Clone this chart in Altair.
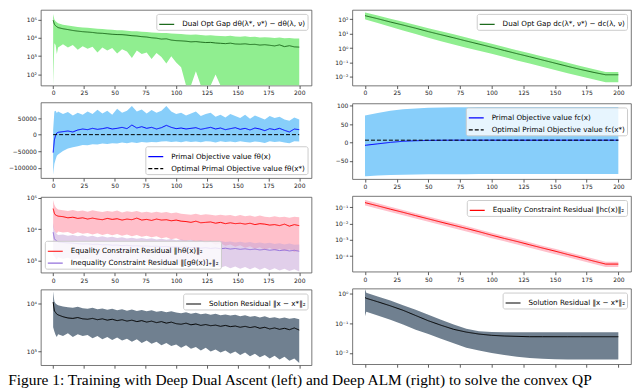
import altair as alt
import pandas as pd

# ---------------- x positions ----------------
XL = [0, 1, 2, 3] + list(range(4, 201, 4))          # left column (Deep Dual Ascent)
XR = [0, 1] + list(range(10, 201, 10))             # right column (Deep ALM)
XTICKS = [0, 25, 50, 75, 100, 125, 150, 175, 200]

# ---------------- Left column data ----------------
L1_MEAN = [90000, 55000, 45000, 40000,
           36000, 31000, 28000, 25000, 23000, 21500, 20500, 19500, 18000, 17500,
           16500, 15500, 15000, 14800, 14000, 13000, 12500, 11500, 11000, 10000,
           9500, 8500, 8800, 7500, 7000, 6800, 6500, 6000, 6200, 5800,
           5500, 5600, 5200, 5000, 4800, 5100, 4600, 4500, 4700, 4300,
           4400, 4000, 4200, 3900, 3600, 4100, 3300, 3700, 3200, 3100]
L1_HI = [200000, 100000, 80000, 70000,
         62000, 52000, 46000, 42000, 39000, 36000, 35000, 33000, 31000, 30000,
         28500, 27000, 26000, 25500, 24000, 23000, 22500, 21500, 20500, 19500,
         19000, 18000, 18500, 17000, 16500, 16000, 15000, 14500, 15000, 14000,
         13500, 13800, 13000, 12500, 12200, 12800, 11800, 11500, 12000, 11000,
         11300, 10500, 10800, 10200, 9800, 10400, 9300, 9800, 9200, 9000]
L1_LO = [10, 5000, 4000, 1300,
         3000, 4500, 3000, 4000, 2200, 3500, 2500, 3200, 1600, 3000,
         2000, 2800, 1400, 2400, 1800, 800, 2000, 1300, 1600, 700,
         1500, 900, 400, 1000, 450, 250, 10, 10, 150, 10,
         10, 10, 100, 10, 10, 10, 10, 10, 10, 10,
         10, 10, 10, 10, 10, 10, 10, 10, 10, 10]

L2_MEAN = [-54000, -16000, -2000, 5000,
           7000, 9000, 11000, 8000, 14000, 17000, 15000, 19000, 16000, 18000,
           21000, 17000, 19000, 22000, 18000, 29000, 20000, 24000, 19000, 22000,
           17000, 21000, 28000, 22000, 18000, 20000, 17000, 19000, 21000, 16000,
           19000, 22000, 17000, 20000, 15000, 18000, 21000, 16000, 19000, 14000,
           20000, 17000, 12000, 18000, 15000, 19000, 13000, 8000, 17000, 15000]
L2_HI = [15000, 70000, 72000, 65000,
         70000, 62000, 68000, 58000, 66000, 60000, 70000, 62000, 75000, 64000,
         72000, 60000, 78000, 66000, 72000, 86000, 70000, 76000, 64000, 74000,
         66000, 72000, 86000, 70000, 62000, 66000, 58000, 64000, 70000, 56000,
         62000, 66000, 54000, 60000, 52000, 62000, 56000, 50000, 60000, 48000,
         58000, 52000, 46000, 56000, 50000, 54000, 46000, 42000, 52000, 46000]
L2_LO = [-121000, -88000, -75000, -64000,
         -60000, -49000, -42000, -38000, -35000, -31000, -32000, -29000, -30000, -27000,
         -28000, -26000, -27000, -24000, -26000, -23000, -25000, -22000, -24000, -22000,
         -23000, -21000, -20000, -22000, -21000, -23000, -20000, -22000, -21000, -23000,
         -20000, -21000, -24000, -20000, -22000, -21000, -23000, -20000, -22000, -24000,
         -21000, -22000, -25000, -20000, -22000, -21000, -24000, -26000, -20000, -21000]
L2_OPT_X = [0, 200]
L2_OPT = [0, 0]

L3_MEAN = [45000, 32000, 28000, 27000,
           26000, 25000, 23000, 24000, 22000, 23000, 21000, 22500, 21000, 20000,
           22000, 20500, 21500, 19500, 21000, 20000, 22500, 19500, 20500, 19000,
           21000, 19500, 20000, 18500, 19500, 18000, 17500, 16500, 18000, 16000,
           16500, 17000, 15500, 16500, 15000, 16000, 15000, 15500, 14500, 15500,
           14000, 15000, 14500, 13500, 14000, 13000, 14500, 12500, 14000, 13000]
L3_HI = [85000, 60000, 50000, 45000,
         42000, 40000, 38000, 41000, 37000, 39000, 36000, 40000, 37000, 35000,
         38000, 36000, 39000, 34000, 37000, 35000, 38000, 34000, 36000, 33000,
         36000, 33000, 35000, 32000, 34000, 31000, 30000, 29000, 31000, 28000,
         30000, 29000, 27000, 29000, 27000, 28000, 26000, 28000, 26000, 27000,
         25000, 27000, 25000, 24000, 26000, 24000, 25000, 23000, 25000, 24000]
L3_LO = [12000, 9000, 8000, 7500,
         8500, 7800, 8200, 7000, 8000, 7200, 7600, 6800, 7400, 6600,
         7200, 6400, 7000, 6200, 6800, 6000, 6600, 5800, 6200, 5600,
         6000, 5200, 5600, 4800, 5200, 4500, 4200, 4600, 3800, 4200,
         3500, 3900, 3200, 3600, 3000, 3300, 2800, 3100, 2600, 2900,
         2400, 2700, 2200, 2600, 2100, 2400, 2000, 2300, 1900, 2100]
L3G_MEAN = [8000, 5000, 4500, 4200,
            4000, 3800, 3700, 3600, 3500, 3400, 3450, 3300, 3350, 3200,
            3250, 3100, 3150, 3000, 3100, 2950, 3000, 2900, 2950, 2850,
            2900, 2800, 2850, 2700, 2750, 2650, 2700, 2600, 2650, 2500,
            2600, 2450, 2550, 2400, 2500, 2350, 2450, 2300, 2400, 2250,
            2350, 2200, 2300, 2150, 2250, 2100, 2200, 2050, 2150, 2000]
L3G_HI = [16000, 9000, 8000, 7000,
          6500, 6800, 6200, 6600, 6000, 6400, 5800, 6200, 5600, 6000,
          5500, 5800, 5300, 5600, 5100, 5400, 5000, 5300, 4900, 5200,
          4700, 5000, 4600, 4900, 4500, 4700, 4400, 4600, 4200, 4500,
          4100, 4300, 4000, 4200, 3900, 4100, 3800, 4000, 3700, 3900,
          3600, 3800, 3500, 3700, 3400, 3600, 3300, 3500, 3200, 3300]
L3G_LO = [1500, 1400, 1200, 1100,
          1300, 1150, 1250, 1100, 1200, 1050, 1150, 1000, 1100, 950,
          1050, 900, 1000, 870, 950, 840, 920, 800, 880, 780,
          850, 750, 820, 720, 790, 700, 760, 680, 740, 650,
          720, 630, 700, 600, 680, 580, 660, 560, 640, 540,
          620, 520, 600, 500, 580, 490, 560, 470, 540, 460]

L4_MEAN = [10700, 7000, 6500, 6000,
           5800, 5300, 5000, 4900, 5100, 4800, 4700, 4900, 4600, 4800,
           4500, 4700, 4400, 4600, 4300, 4500, 4200, 4400, 4100, 4300,
           4000, 4200, 3900, 4100, 3800, 3700, 3900, 3600, 3750, 3500,
           3650, 3450, 3550, 3350, 3500, 3300, 3400, 3200, 3350, 3150,
           3300, 3050, 3200, 2950, 3100, 2900, 3050, 2850, 3100, 2800]
L4_HI = [18000, 11000, 10000, 9500,
         9200, 8700, 8400, 8200, 8600, 8000, 7800, 8200, 7600, 7900,
         7400, 7800, 7200, 7600, 7100, 7500, 7000, 7300, 6900, 7200,
         6700, 7000, 6600, 6900, 6500, 6300, 6600, 6100, 6400, 6000,
         6200, 5800, 6100, 5700, 5900, 5600, 5800, 5400, 5700, 5300,
         5500, 5100, 5400, 5000, 5200, 4900, 5100, 4800, 5000, 4700]
L4_LO = [3200, 2600, 2200, 2000,
         2300, 2100, 2400, 2000, 2300, 2100, 2200, 1900, 2100, 1800,
         2000, 1750, 1950, 1700, 1850, 1600, 1800, 1500, 1700, 1450,
         1600, 1350, 1500, 1300, 1400, 1200, 1350, 1150, 1250, 1050,
         1200, 1000, 1100, 950, 1050, 900, 1000, 850, 950, 800,
         900, 760, 850, 720, 820, 680, 780, 640, 720, 580]

# ---------------- Right column data ----------------
R1_MEAN = [180, 170, 110, 65, 40, 24, 14, 8.5, 5.2, 3.1, 1.9, 1.15, 0.68, 0.41,
           0.25, 0.15, 0.09, 0.054, 0.033, 0.021, 0.014, 0.014]
R1_HI = [300, 285, 185, 110, 68, 41, 24, 15, 9, 5.4, 3.3, 2.0, 1.2, 0.72,
         0.44, 0.26, 0.16, 0.095, 0.058, 0.035, 0.022, 0.022]
R1_LO = [100, 95, 55, 30, 17, 9.5, 5.3, 3.0, 1.8, 1.05, 0.65, 0.4, 0.24, 0.14,
         0.085, 0.05, 0.03, 0.018, 0.011, 0.0068, 0.0042, 0.0042]

R2_MEAN = [-8, -7.6, -4, 0, 3, 4.5, 5.3, 5.7, 6, 6, 6, 6, 6, 6, 6, 6, 6, 6, 6, 6, 6, 6]
R2_HI = [73, 74, 80, 86, 90, 92.5, 94, 95, 95.5, 96, 96.3, 96.5, 96.5, 96.5,
         96.5, 96.5, 96.5, 96.5, 96.5, 96.5, 96.5, 96.5]
R2_LO = [-92, -92, -90, -89, -88, -87.5, -87, -86.5, -86.5, -86.5, -86.3, -86.2,
         -86, -86, -86, -86, -86, -86, -86, -86, -86, -86]
R2_OPT_X = [0, 200]
R2_OPT = [6, 6]

R3_MEAN = [0.19, 0.18, 0.12, 0.075, 0.048, 0.030, 0.019, 0.012, 0.0077, 0.0049,
           0.0031, 0.0019, 0.0012, 0.00078, 0.00049, 0.00031, 0.0002, 0.000125,
           0.00008, 0.00005, 0.000032, 0.000032]
R3_HI = [0.27, 0.26, 0.17, 0.105, 0.067, 0.042, 0.027, 0.017, 0.011, 0.0069,
         0.0043, 0.0027, 0.0017, 0.0011, 0.00069, 0.00043, 0.00028, 0.000175,
         0.00011, 0.00007, 0.000045, 0.000045]
R3_LO = [0.126, 0.12, 0.08, 0.05, 0.032, 0.02, 0.0125, 0.0079, 0.0051, 0.0032,
         0.002, 0.00125, 0.0008, 0.00051, 0.00032, 0.0002, 0.00013, 0.000083,
         0.000053, 0.000033, 0.000021, 0.000021]

R4_MEAN = [0.72, 0.68, 0.52, 0.38, 0.27, 0.18, 0.12, 0.085, 0.062, 0.05, 0.043,
           0.039, 0.037, 0.036, 0.035, 0.035, 0.035, 0.035, 0.035, 0.035, 0.035, 0.035]
R4_HI = [1.4, 1.05, 0.78, 0.57, 0.4, 0.28, 0.19, 0.13, 0.09, 0.065, 0.053, 0.05,
         0.049, 0.049, 0.049, 0.049, 0.049, 0.049, 0.049, 0.049, 0.049, 0.049]
R4_LO = [0.17, 0.24, 0.18, 0.13, 0.09, 0.06, 0.043, 0.03, 0.021, 0.015, 0.012, 0.01,
         0.0085, 0.0074, 0.0068, 0.0064, 0.0062, 0.006, 0.006, 0.006, 0.006, 0.006]

# ---------------- Labels ----------------
LBL_DUAL_L = "Dual Opt Gap dθ(λ*, ν*) − dθ(λ, ν)"
LBL_DUAL_R = "Dual Opt Gap dc(λ*, ν*) − dc(λ, ν)"
LBL_PRIM_L = "Primal Objective value fθ(x)"
LBL_OPT_L = "Optimal Primal Objective value fθ(x*)"
LBL_PRIM_R = "Primal Objective value fc(x)"
LBL_OPT_R = "Optimal Primal Objective value fc(x*)"
LBL_EQ_L = "Equality Constraint Residual ‖hθ(x)‖₂"
LBL_INEQ_L = "Inequality Constraint Residual ‖[gθ(x)]₊‖₂"
LBL_EQ_R = "Equality Constraint Residual ‖hc(x)‖₂"
LBL_SOL = "Solution Residual ‖x − x*‖₂"
CAPTION = "Figure 1: Training with Deep Dual Ascent (left) and Deep ALM (right) to solve the convex QP"

SUP_EXPR = ("'10' + replace(replace(replace(replace(replace(replace(replace(replace("
            "format(round(log(datum.value)/LN10),'d'),'−','⁻'),'-','⁻'),'0','⁰'),'1','¹'),"
            "'2','²'),'3','³'),'4','⁴'),'5','⁵')")

WL, WR, H = 272, 280, 76


def panel(xs, bands, lines, ydom, ylog, yticks, lorient, xlabels, w):
    xscale = alt.Scale(domain=[-10, 210], nice=False, zero=False)
    xaxis = alt.Axis(values=XTICKS, labels=xlabels, title=None)
    if ylog:
        yscale = alt.Scale(type="log", domain=ydom, nice=False, clamp=True)
        yaxis = alt.Axis(values=yticks, labelExpr=SUP_EXPR, title=None)
    else:
        yscale = alt.Scale(domain=ydom, nice=False, zero=False, clamp=True)
        yaxis = alt.Axis(values=yticks, format="d", title=None)
    layers = []
    for lo, hi, col, op in bands:
        df = pd.DataFrame({"x": xs, "lo": lo, "hi": hi})
        layers.append(
            alt.Chart(df).mark_area(color=col, opacity=op, clip=True).encode(
                x=alt.X("x:Q", scale=xscale, axis=xaxis),
                y=alt.Y("lo:Q", scale=yscale, axis=yaxis),
                y2="hi:Q",
            )
        )
    rows = []
    names, cols, dashes = [], [], []
    for name, lx, ly, col, dash in lines:
        names.append(name)
        cols.append(col)
        dashes.append(dash)
        for a, b in zip(lx, ly):
            rows.append({"x": a, "y": b, "s": name})
    df = pd.DataFrame(rows)
    leg = alt.Legend(
        title=None, orient=lorient, offset=4,
        fillColor="rgba(255,255,255,0.8)", strokeColor="#cccccc", cornerRadius=2,
        padding=2, labelFont="DejaVu Sans", labelFontSize=7.2, labelColor="black",
        symbolType="stroke", symbolSize=225, symbolStrokeWidth=1.2,
        rowPadding=-1, labelLimit=400, labelOffset=7,
    )
    layers.append(
        alt.Chart(df).mark_line(strokeWidth=1, clip=True).encode(
            x=alt.X("x:Q", scale=xscale, axis=xaxis),
            y=alt.Y("y:Q", scale=yscale, axis=yaxis),
            color=alt.Color("s:N", scale=alt.Scale(domain=names, range=cols), legend=leg),
            strokeDash=alt.StrokeDash("s:N", scale=alt.Scale(domain=names, range=dashes), legend=leg),
        )
    )
    return alt.layer(*layers).properties(width=w, height=H)


SOLID = [1, 0]
DASH = [4, 2]

L1 = panel(XL, [(L1_LO, L1_HI, "#90ee90", 1)],
           [(LBL_DUAL_L, XL, L1_MEAN, "#1d6b1d", SOLID)],
           [25, 330000], True, [100, 1000, 10000, 100000], "top-right", True, WL)
L2 = panel(XL, [(L2_LO, L2_HI, "#87cefa", 1)],
           [(LBL_PRIM_L, XL, L2_MEAN, "#0000ff", SOLID),
            (LBL_OPT_L, L2_OPT_X, L2_OPT, "#000000", DASH)],
           [-131000, 97000], False, [-100000, -50000, 0, 50000], "bottom-right", True, WL)
L3 = panel(XL, [(L3_LO, L3_HI, "#ffc0cb", 1), (L3G_LO, L3G_HI, "#c8a8d8", 0.55)],
           [(LBL_EQ_L, XL, L3_MEAN, "#ff0000", SOLID),
            (LBL_INEQ_L, XL, L3G_MEAN, "#9370db", SOLID)],
           [420, 105000], True, [1000, 10000, 100000], "bottom-left", True, WL)
L4 = panel(XL, [(L4_LO, L4_HI, "#708090", 1)],
           [(LBL_SOL, XL, L4_MEAN, "#000000", SOLID)],
           [520, 19500], True, [1000, 10000], "top-right", False, WL)

R1 = panel(XR, [(R1_LO, R1_HI, "#90ee90", 1)],
           [(LBL_DUAL_R, XR, R1_MEAN, "#1d6b1d", SOLID)],
           [0.0025, 450], True, [0.01, 0.1, 1, 10, 100], "top-right", True, WR)
R2 = panel(XR, [(R2_LO, R2_HI, "#87cefa", 1)],
           [(LBL_PRIM_R, XR, R2_MEAN, "#0000ff", SOLID),
            (LBL_OPT_R, R2_OPT_X, R2_OPT, "#000000", DASH)],
           [-100, 106], False, [-50, 0, 50, 100], "top-right", True, WR)
R3 = panel(XR, [(R3_LO, R3_HI, "#ffc0cb", 1)],
           [(LBL_EQ_R, XR, R3_MEAN, "#ff0000", SOLID)],
           [0.000011, 0.48], True, [0.0001, 0.001, 0.01, 0.1], "top-right", True, WR)
R4 = panel(XR, [(R4_LO, R4_HI, "#708090", 1)],
           [(LBL_SOL, XR, R4_MEAN, "#000000", SOLID)],
           [0.0042, 1.44], True, [0.01, 0.1, 1], "top-right", False, WR)

RES = dict(color="independent", strokeDash="independent")
colL = alt.vconcat(L1, L2, L3, L4, spacing=5).resolve_scale(y="independent", **RES).resolve_legend(**RES)
colR = alt.vconcat(R1, R2, R3, R4, spacing=5).resolve_scale(y="independent", **RES).resolve_legend(**RES)

chart = alt.hconcat(
    colL, colR, spacing=21, padding=0,
    title=alt.TitleParams(text=CAPTION, orient="bottom", anchor="start",
                          font="Liberation Serif", fontSize=15.5, fontWeight="normal",
                          color="black", offset=4),
).resolve_scale(**RES).resolve_legend(**RES).configure_axis(
    labelFont="DejaVu Sans", labelFontSize=6, labelColor="#222", tickColor="#333",
    tickSize=3, tickWidth=0.8, domain=False, grid=False, labelPadding=1.5,
).configure_view(stroke="#555", strokeWidth=0.8)

chart.save("out.html", embed_options={"renderer": "svg", "actions": False})
